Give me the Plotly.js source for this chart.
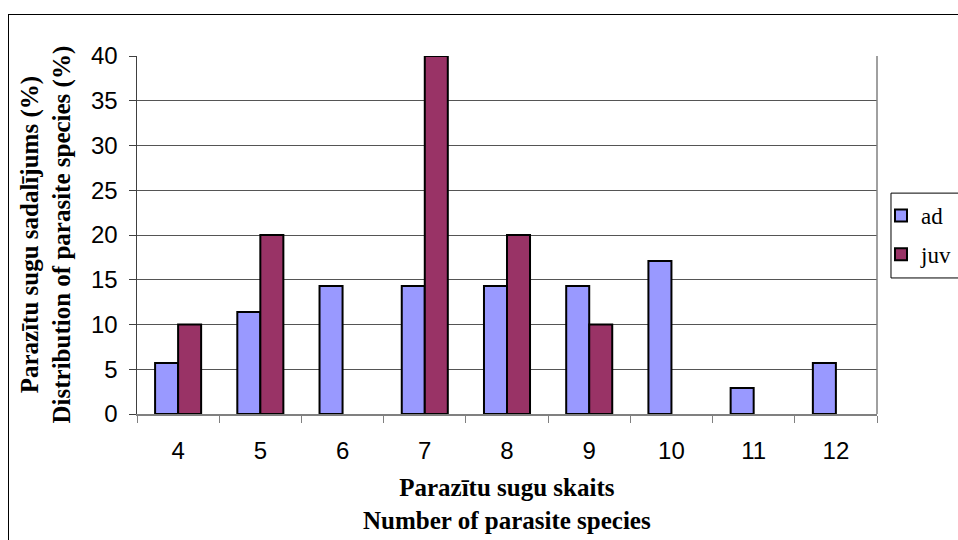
<!DOCTYPE html>
<html>
<head>
<meta charset="utf-8">
<script src="https://cdn.plot.ly/plotly-3.0.1.min.js"></script>
<style>
html,body{margin:0;padding:0;background:#fff;overflow:hidden;}
#chart{width:958px;height:540px;}
#frame{position:absolute;left:8px;top:14px;width:1000px;height:600px;border:1px solid #000;pointer-events:none;}
</style>
</head>
<body>
<div id="chart"></div>
<div id="frame"></div>
<script>
var categories = ['4','5','6','7','8','9','10','11','12'];
var adValues  = [5.7, 11.4, 14.3, 14.3, 14.3, 14.3, 17.1, 2.9, 5.7];
var juvValues = [10, 20, 0, 40, 20, 10, 0, 0, 0];
var seriesNames = ['ad', 'juv'];
var yTitleLines = ['Parazītu sugu sadalījums (%)', 'Distribution of parasite species (%)'];
var xTitleLines = ['Parazītu sugu skaits', 'Number of parasite species'];

function hideZero(arr){ return arr.map(function(v){ return v === 0 ? null : v; }); }

var traces = [
  {type:'bar', name:seriesNames[0], legendgroup:'a', x:categories, y:hideZero(adValues),
   marker:{color:'#9999FF', line:{color:'#000', width:2}}},
  {type:'bar', name:seriesNames[1], legendgroup:'b', x:categories, y:hideZero(juvValues),
   marker:{color:'#993366', line:{color:'#000', width:2}}}
];

var serif = 'Liberation Serif, Times New Roman, serif';
var sans = 'Liberation Sans, Arial, sans-serif';

var layout = {
  width:958, height:540,
  margin:{l:137, r:81, t:56, b:126, autoexpand:false},
  paper_bgcolor:'#fff', plot_bgcolor:'#fff',
  barmode:'group', bargap:0.44, bargroupgap:0,
  font:{family:sans, color:'#000'},
  xaxis:{type:'category', tickson:'boundaries', ticks:'outside', ticklen:7, tickcolor:'#808080',
         showline:true, linecolor:'#808080', linewidth:1.5, showgrid:false,
         tickfont:{size:24, family:sans}, ticklabelstandoff:15, automargin:false},
  yaxis:{range:[0,40], dtick:5, ticks:'outside', ticklen:7, tickcolor:'#404040',
         showline:true, linecolor:'#404040', linewidth:1.5, showgrid:true, gridcolor:'#555', gridwidth:1,
         tickfont:{size:24, family:sans}, ticklabelstandoff:6, zeroline:false, automargin:false},
  showlegend:true,
  legend:{x:1.0054, xanchor:'left', y:0.5, yanchor:'middle', borderwidth:0,
          bgcolor:'rgba(0,0,0,0)', font:{size:23, family:serif},
          traceorder:'grouped', tracegroupgap:6, itemwidth:30},
  shapes:[
    {type:'line', xref:'paper', yref:'paper', x0:1, x1:1, y0:0, y1:1, line:{color:'#808080', width:1.5}},
    {type:'rect', xref:'paper', yref:'paper', x0:1.0189, x1:1.25, y0:0.380, y1:0.617,
     line:{color:'#000', width:1}, fillcolor:'rgba(0,0,0,0)', layer:'above'}
  ],
  annotations:[
    {xref:'paper', yref:'paper', x:0, y:0.5, xshift:-124, xanchor:'left', yanchor:'middle',
     textangle:-90, showarrow:false,
     text:'<b>'+yTitleLines[0]+'</b><br><b>'+yTitleLines[1]+'</b>',
     font:{size:25, family:serif}},
    {xref:'paper', yref:'paper', x:0.5, y:0, yshift:-58, xanchor:'center', yanchor:'top',
     showarrow:false,
     text:'<b>'+xTitleLines[0]+'</b><br><b>'+xTitleLines[1]+'</b>',
     font:{size:25, family:serif}}
  ]
};

Plotly.newPlot('chart', traces, layout, {displayModeBar:false, staticPlot:true});
</script>
</body>
</html>
